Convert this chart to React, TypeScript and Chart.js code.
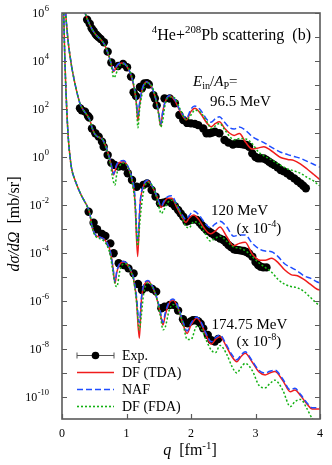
import React, { useEffect, useRef } from "react";
import { Chart, registerables } from "chart.js";
Chart.register(...registerables);

// ---------- data (values are log10 of dσ/dΩ as plotted, scaled sets already multiplied) ----------
// 96.5 MeV
const q1: number[] = [0.34,0.36,0.40,0.45,0.50,0.55,0.60,0.65,0.70,0.75,0.78,0.80,0.83,0.87,0.93,1.00,1.07,1.12,1.15,1.178,1.20,1.24,1.31,1.38,1.44,1.50,1.53,1.56,1.60,1.67,1.75,1.83,1.93,2.00,2.06,2.15,2.25,2.31,2.38,2.44,2.52,2.60,2.67,2.75,2.85,2.95,3.05,3.13,3.25,3.39,3.50,3.60,3.70,3.80,3.90,3.98,4.0];
const tda1: number[] = [6.1,5.98,5.7,5.4,5.18,5.02,4.9,4.72,4.42,4.0,3.7,3.56,3.68,3.85,3.92,3.8,3.4,2.85,2.3,1.5,2.1,2.75,3.12,2.95,2.55,1.8,1.3,1.85,2.3,2.54,2.35,1.9,1.55,1.9,2.03,1.8,1.4,1.26,1.4,1.47,1.2,0.99,0.9,0.98,0.6,0.33,0.38,0.43,0.25,-0.02,-0.1,-0.15,-0.3,-0.5,-0.72,-0.9,-0.95];
const naf1: number[] = [6.1,5.98,5.7,5.4,5.18,5.02,4.9,4.72,4.42,4.0,3.72,3.6,3.72,3.87,3.93,3.8,3.42,2.9,2.45,1.75,2.2,2.8,3.14,2.96,2.55,1.85,1.38,1.85,2.3,2.56,2.4,1.95,1.62,2.0,2.12,1.95,1.55,1.45,1.6,1.68,1.45,1.22,1.17,1.25,1.1,0.85,0.7,0.6,0.4,0.2,0.1,0.02,-0.06,-0.18,-0.3,-0.4,-0.42];
const fda1: number[] = [6.1,5.98,5.7,5.4,5.18,5.02,4.9,4.72,4.42,4.0,3.55,3.3,3.4,3.7,3.88,3.82,3.45,2.9,2.3,1.22,1.9,2.6,3.1,3.0,2.6,1.75,1.25,1.5,2.2,2.5,2.45,2.0,1.55,1.75,1.95,1.85,1.45,1.2,1.3,1.4,1.15,0.85,0.72,0.77,0.75,0.55,0.2,0.05,-0.12,-0.35,-0.5,-0.58,-0.68,-0.85,-1.0,-1.17,-1.2];
const exp1: [number, number][] = [[0.39,5.72],[0.43,5.55],[0.46,5.36],[0.49,5.25],[0.52,5.12],[0.54,5.06],[0.565,5.0],[0.60,4.92],[0.65,4.78],[0.708,4.39],[0.765,3.94],[0.87,3.79],[0.946,3.875],[1.008,3.74],[1.07,3.35],[1.11,2.7],[1.147,2.54],[1.209,2.92],[1.24,2.86],[1.276,3.06],[1.318,3.07],[1.345,3.02],[1.416,2.58],[1.44,2.44],[1.468,2.15],[1.59,2.44],[1.67,2.44],[1.75,2.24],[1.82,1.75],[1.88,1.54],[1.94,1.42],[2.0,1.4],[2.06,1.38],[2.11,1.33],[2.19,1.19],[2.24,0.99],[2.29,0.99],[2.33,1.02],[2.37,1.05],[2.44,0.99],[2.52,0.71],[2.58,0.6],[2.65,0.52],[2.7,0.56],[2.74,0.55],[2.78,0.54],[2.82,0.52],[2.86,0.5],[2.9,0.43],[2.95,0.15],[3.0,0.0],[3.04,-0.05],[3.08,-0.05],[3.13,-0.06],[3.17,-0.12],[3.21,-0.2],[3.25,-0.27],[3.29,-0.33],[3.34,-0.43],[3.39,-0.54],[3.44,-0.6],[3.49,-0.68],[3.54,-0.78],[3.6,-0.89],[3.65,-1.0],[3.7,-1.1],[3.74,-1.2],[3.78,-1.3]];

// 120 MeV (x 1e-4)
const q2: number[] = [0.057,0.065,0.08,0.10,0.125,0.15,0.175,0.20,0.24,0.28,0.32,0.36,0.40,0.43,0.47,0.51,0.55,0.59,0.63,0.67,0.71,0.75,0.78,0.80,0.82,0.85,0.90,0.956,1.02,1.08,1.13,1.173,1.21,1.26,1.33,1.40,1.47,1.54,1.58,1.64,1.70,1.78,1.86,1.92,1.97,2.04,2.12,2.20,2.30,2.37,2.45,2.55,2.66,2.75,2.84,2.95,3.07,3.15,3.25,3.35,3.45,3.55,3.65,3.75,3.85,3.95,4.0];
const tda2: number[] = [6.05,5.7,5.25,4.7,4.2,3.76,3.4,3.07,2.6,2.22,2.0,1.85,1.7,1.55,1.19,0.95,0.85,0.8,0.72,0.5,0.2,-0.2,-0.55,-0.75,-0.6,-0.35,-0.22,-0.2,-0.4,-0.9,-1.8,-4.15,-2.0,-1.25,-1.0,-1.25,-1.65,-2.1,-1.9,-1.72,-1.72,-2.1,-2.5,-2.72,-2.55,-2.42,-2.6,-2.95,-3.2,-3.1,-2.92,-3.3,-3.7,-3.6,-3.55,-4.05,-4.3,-4.3,-4.22,-4.4,-4.7,-4.9,-4.95,-5.1,-5.3,-5.5,-5.55];
const naf2: number[] = [6.05,5.7,5.25,4.7,4.2,3.76,3.4,3.07,2.6,2.22,2.0,1.85,1.7,1.55,1.19,0.95,0.85,0.8,0.72,0.5,0.2,-0.18,-0.5,-0.72,-0.55,-0.3,-0.18,-0.15,-0.38,-0.85,-1.6,-3.5,-1.9,-1.2,-0.97,-1.22,-1.62,-2.05,-1.85,-1.65,-1.62,-2.0,-2.4,-2.6,-2.45,-2.25,-2.4,-2.7,-2.95,-2.8,-2.68,-2.9,-3.3,-3.25,-3.25,-3.6,-3.85,-3.92,-3.95,-4.15,-4.45,-4.6,-4.75,-4.95,-5.05,-5.2,-5.25];
const fda2: number[] = [6.05,5.7,5.25,4.7,4.2,3.76,3.4,3.07,2.6,2.22,2.0,1.85,1.7,1.55,1.19,0.95,0.85,0.8,0.72,0.48,0.15,-0.3,-0.8,-1.05,-1.17,-0.7,-0.35,-0.25,-0.42,-0.95,-1.9,-3.7,-2.6,-1.5,-1.05,-1.2,-1.7,-2.35,-2.2,-1.9,-1.8,-2.0,-2.5,-2.9,-2.95,-2.7,-2.75,-3.1,-3.5,-3.4,-3.3,-3.5,-3.75,-3.8,-3.9,-4.15,-4.45,-4.6,-4.8,-5.1,-5.3,-5.4,-5.45,-5.6,-5.85,-6.1,-6.2];
const exp2: [number, number][] = [[0.279,2.03],[0.305,1.95],[0.357,1.89],[0.403,1.71],[0.423,1.64],[0.465,1.19],[0.517,0.99],[0.568,0.85],[0.62,0.64],[0.646,0.43],[0.708,0.08],[0.765,-0.24],[0.817,-0.33],[0.879,-0.4],[0.956,-0.4],[1.02,-0.68],[1.085,-0.96],[1.158,-1.24],[1.26,-1.17],[1.318,-1.1],[1.39,-1.375],[1.45,-1.65],[1.519,-1.93],[1.57,-1.9],[1.62,-1.86],[1.70,-1.93],[1.75,-2.05],[1.80,-2.21],[1.84,-2.35],[1.88,-2.49],[1.93,-2.69],[1.97,-2.65],[2.01,-2.62],[2.05,-2.6],[2.09,-2.62],[2.13,-2.72],[2.165,-2.83],[2.2,-2.93],[2.24,-3.04],[2.28,-3.1],[2.32,-3.18],[2.36,-3.25],[2.4,-3.32],[2.45,-3.4],[2.5,-3.46],[2.54,-3.55],[2.58,-3.67],[2.62,-3.75],[2.667,-3.85],[2.70,-3.87],[2.74,-3.88],[2.78,-3.9],[2.82,-3.92],[2.86,-3.96],[2.9,-4.02],[2.95,-4.15],[3.0,-4.38],[3.04,-4.5],[3.08,-4.57],[3.12,-4.6],[3.17,-4.6]];

// 174.75 MeV (x 1e-8)
const q3: number[] = [0.025,0.03,0.04,0.055,0.075,0.10,0.125,0.15,0.20,0.25,0.30,0.35,0.39,0.43,0.465,0.49,0.52,0.56,0.60,0.65,0.70,0.75,0.79,0.822,0.85,0.90,0.956,1.0,1.06,1.11,1.15,1.199,1.23,1.266,1.333,1.40,1.48,1.53,1.566,1.60,1.66,1.72,1.80,1.88,1.94,2.0,2.09,2.15,2.23,2.315,2.38,2.45,2.55,2.63,2.71,2.78,2.84,2.95,3.05,3.15,3.22,3.30,3.42,3.54,3.61,3.70,3.80,3.88,3.95,4.0];
const tda3: number[] = [6.5,5.6,4.5,3.2,1.9,0.7,0.0,-0.5,-0.95,-1.3,-1.6,-1.85,-2.05,-2.35,-2.9,-3.1,-3.25,-3.32,-3.35,-3.42,-3.6,-3.95,-4.6,-5.26,-4.8,-4.45,-4.38,-4.45,-4.71,-5.1,-5.8,-7.55,-6.0,-5.4,-5.19,-5.4,-6.0,-6.6,-7.0,-6.6,-6.1,-5.96,-6.3,-7.0,-7.35,-7.0,-6.72,-6.9,-7.4,-7.8,-7.6,-7.49,-7.9,-8.3,-8.53,-8.3,-8.18,-8.55,-8.95,-9.08,-9.0,-8.94,-9.3,-9.78,-9.71,-9.95,-10.3,-10.5,-10.5,-10.5];
const naf3: number[] = [6.5,5.6,4.5,3.2,1.9,0.7,0.0,-0.5,-0.95,-1.3,-1.6,-1.85,-2.05,-2.35,-2.9,-3.1,-3.25,-3.32,-3.35,-3.42,-3.6,-3.95,-4.6,-5.2,-4.75,-4.42,-4.35,-4.42,-4.68,-5.05,-5.7,-6.9,-5.9,-5.35,-5.15,-5.37,-5.95,-6.5,-6.9,-6.5,-6.05,-5.92,-6.25,-6.9,-7.25,-6.93,-6.67,-6.85,-7.33,-7.7,-7.52,-7.42,-7.83,-8.22,-8.45,-8.24,-8.12,-8.5,-8.88,-9.0,-8.93,-8.88,-9.24,-9.7,-9.64,-9.9,-10.25,-10.45,-10.45,-10.45];
const fda3: number[] = [6.5,5.6,4.5,3.2,1.9,0.7,0.0,-0.5,-0.95,-1.3,-1.6,-1.85,-2.05,-2.35,-2.9,-3.15,-3.3,-3.38,-3.42,-3.5,-3.7,-4.1,-4.8,-5.3,-5.4,-4.7,-4.45,-4.45,-4.72,-5.15,-5.9,-7.2,-6.6,-5.7,-5.25,-5.4,-6.0,-6.7,-7.2,-7.1,-6.4,-6.15,-6.35,-7.0,-7.6,-7.6,-7.05,-7.1,-7.6,-8.05,-8.15,-7.85,-8.2,-8.7,-9.0,-8.75,-8.6,-8.9,-9.5,-9.62,-9.45,-9.3,-9.7,-10.4,-10.2,-10.1,-10.5,-10.9,-11.1,-11.2];
const exp3: [number, number][] = [[0.413,-2.28],[0.49,-2.74],[0.543,-3.01],[0.62,-3.21],[0.672,-3.29],[0.749,-3.6],[0.80,-4.01],[0.879,-4.43],[0.956,-4.5],[1.03,-4.64],[1.11,-4.85],[1.178,-5.29],[1.24,-5.54],[1.318,-5.43],[1.40,-5.5],[1.46,-5.61],[1.54,-6.3],[1.59,-6.24],[1.67,-6.17],[1.74,-6.17],[1.80,-6.4],[1.876,-6.76],[1.91,-6.9],[1.95,-6.93],[1.99,-6.86],[2.03,-6.8],[2.07,-6.8],[2.11,-6.84],[2.15,-6.95],[2.19,-7.14],[2.26,-7.42],[2.315,-7.63],[2.37,-7.69],[2.42,-7.58]];

const yTickExps: number[] = [6,5,4,3,2,1,0,-1,-2,-3,-4,-5,-6,-7,-8,-9,-10];
const yLabelExps: number[] = [6,4,2,0,-2,-4,-6,-8,-10];
const xTicks: number[] = [0,1,2,3,4];
const legendLabels: string[] = ["Exp.", "DF (TDA)", "NAF", "DF (FDA)"];

// ---------- styling ----------
const FAMILY = "'Liberation Serif', 'Times New Roman', serif";
const RED = "#f01c1c";
const BLUE = "#1e4dff";
const GREEN = "#12b012";
const AXIS = "#5a5a5a";
const Y_MIN = 1.21e-11;
const Y_MAX = 1e6;

const curve = (q: number[], lg: number[]) => q.map((x, i) => ({ x, y: Math.pow(10, lg[i]) }));
const pts = (p: [number, number][]) => p.map(([x, v]) => ({ x, y: Math.pow(10, v) }));

type Seg = { t: string; it?: boolean; sup?: boolean; sub?: boolean };
function drawRich(ctx: CanvasRenderingContext2D, segs: Seg[], x: number, y: number, size: number, align: string = "left") {
  const small = size * 0.68;
  const fontOf = (s: Seg) => `${s.it ? "italic " : ""}${s.sup || s.sub ? small : size}px ${FAMILY}`;
  let w = 0;
  for (const s of segs) { ctx.font = fontOf(s); w += ctx.measureText(s.t).width; }
  let cx = align === "left" ? x : align === "right" ? x - w : x - w / 2;
  ctx.textAlign = "left";
  ctx.textBaseline = "alphabetic";
  for (const s of segs) {
    ctx.font = fontOf(s);
    const dy = s.sup ? -size * 0.4 : s.sub ? size * 0.22 : 0;
    ctx.fillText(s.t, cx, y + dy);
    cx += ctx.measureText(s.t).width;
  }
}

const overlay = {
  id: "overlay",
  afterDraw(chart: any) {
    const ctx: CanvasRenderingContext2D = chart.ctx;
    const { left, right, top, bottom } = chart.chartArea;
    const xs = chart.scales.x;
    const ys = chart.scales.y;
    ctx.save();
    ctx.fillStyle = "#000";
    // frame
    ctx.strokeStyle = AXIS;
    ctx.lineWidth = 1.6;
    ctx.strokeRect(left, top, right - left, bottom - top);
    // y ticks (left and right, inward)
    ctx.lineWidth = 1.2;
    for (const e of yTickExps) {
      const py = Math.round(ys.getPixelForValue(Math.pow(10, e))) + 0.5;
      ctx.beginPath();
      ctx.moveTo(left, py); ctx.lineTo(left + 5, py);
      ctx.moveTo(right, py); ctx.lineTo(right - 5, py);
      ctx.stroke();
    }
    // x ticks (bottom, inward)
    for (const t of xTicks) {
      const px = Math.round(xs.getPixelForValue(t)) + 0.5;
      ctx.beginPath();
      ctx.moveTo(px, bottom); ctx.lineTo(px, bottom - 5);
      ctx.stroke();
    }
    // y tick labels
    for (const e of yLabelExps) {
      const py = ys.getPixelForValue(Math.pow(10, e));
      ctx.font = `8.5px ${FAMILY}`;
      const sup = String(e);
      const ws = ctx.measureText(sup).width;
      ctx.font = `12px ${FAMILY}`;
      const wb = ctx.measureText("10").width;
      const xr = 49;
      ctx.textAlign = "left";
      ctx.textBaseline = "alphabetic";
      ctx.fillText("10", xr - ws - wb - 0.5, py + 4.2);
      ctx.font = `8.5px ${FAMILY}`;
      ctx.fillText(sup, xr - ws, py - 1.6);
    }
    // x tick labels
    ctx.font = `12px ${FAMILY}`;
    ctx.textAlign = "center";
    for (const t of xTicks) {
      ctx.fillText(String(t), xs.getPixelForValue(t), 437);
    }
    // axis titles
    drawRich(ctx, [{ t: "q", it: true }, { t: "  [fm" }, { t: "-1", sup: true }, { t: "]" }], 190, 455, 16, "center");
    ctx.save();
    ctx.translate(18.5, 224);
    ctx.rotate(-Math.PI / 2);
    drawRich(ctx, [{ t: "dσ/dΩ", it: true }, { t: "  [mb/sr]" }], 0, 0, 16, "center");
    ctx.restore();
    // annotations
    drawRich(ctx, [{ t: "4", sup: true }, { t: "He+" }, { t: "208", sup: true }, { t: "Pb scattering  (b)" }], 311, 39.5, 16, "right");
    drawRich(ctx, [{ t: "E", it: true }, { t: "in", sub: true }, { t: "/" }, { t: "A", it: true }, { t: "P", sub: true }, { t: "=" }], 193, 86, 15);
    drawRich(ctx, [{ t: "96.5 MeV" }], 210, 106, 15);
    drawRich(ctx, [{ t: "120 MeV" }], 211, 215, 15);
    drawRich(ctx, [{ t: "(x 10" }, { t: "-4", sup: true }, { t: ")" }], 236.5, 232.5, 15);
    drawRich(ctx, [{ t: "174.75 MeV" }], 211.5, 329, 15);
    drawRich(ctx, [{ t: "(x 10" }, { t: "-8", sup: true }, { t: ")" }], 236.5, 346, 15);
    // legend
    const lx0 = 77, lx1 = 114, tx = 122;
    const rows = [355.5, 372.5, 389.5, 406.5];
    // Exp.
    ctx.strokeStyle = "#555";
    ctx.lineWidth = 1;
    ctx.setLineDash([]);
    ctx.beginPath();
    ctx.moveTo(lx0, rows[0]); ctx.lineTo(lx1, rows[0]);
    ctx.moveTo(lx0, rows[0] - 3); ctx.lineTo(lx0, rows[0] + 3);
    ctx.moveTo(lx1, rows[0] - 3); ctx.lineTo(lx1, rows[0] + 3);
    ctx.stroke();
    ctx.fillStyle = "#000";
    ctx.beginPath();
    ctx.arc((lx0 + lx1) / 2, rows[0], 3.8, 0, Math.PI * 2);
    ctx.fill();
    const styles: [string, number[]][] = [[RED, []], [BLUE, [6, 3]], [GREEN, [2, 2]]];
    styles.forEach(([c, d], i) => {
      ctx.strokeStyle = c;
      ctx.lineWidth = 1.6;
      ctx.setLineDash(d);
      ctx.beginPath();
      ctx.moveTo(lx0, rows[i + 1]); ctx.lineTo(lx1, rows[i + 1]);
      ctx.stroke();
    });
    ctx.setLineDash([]);
    ctx.fillStyle = "#000";
    legendLabels.forEach((lab, i) => drawRich(ctx, [{ t: lab }], tx, rows[i] + 4.8, 14));
    ctx.restore();
  },
};

function lineDs(data: any[], color: string, dash: number[]) {
  return {
    data,
    showLine: true,
    borderColor: color,
    backgroundColor: color,
    borderWidth: 1.5,
    borderDash: dash,
    pointRadius: 0,
    cubicInterpolationMode: "monotone" as const,
    clip: 0,
    order: 1,
  };
}
function expDs(data: any[]) {
  return {
    data,
    showLine: false,
    pointRadius: 4.2,
    pointBackgroundColor: "#000",
    pointBorderWidth: 0,
    borderColor: "#000",
    order: 5,
  };
}

export default function App() {
  const ref = useRef<HTMLCanvasElement>(null);
  useEffect(() => {
    document.body.style.margin = "0";
    const canvas = ref.current!;
    const chart = new Chart(canvas, {
      type: "scatter",
      data: {
        datasets: [
          expDs(pts(exp1)), expDs(pts(exp2)), expDs(pts(exp3)),
          lineDs(curve(q1, fda1), GREEN, [2, 2]),
          lineDs(curve(q2, fda2), GREEN, [2, 2]),
          lineDs(curve(q3, fda3), GREEN, [2, 2]),
          lineDs(curve(q1, naf1), BLUE, [6, 3]),
          lineDs(curve(q2, naf2), BLUE, [6, 3]),
          lineDs(curve(q3, naf3), BLUE, [6, 3]),
          lineDs(curve(q1, tda1), RED, []),
          lineDs(curve(q2, tda2), RED, []),
          lineDs(curve(q3, tda3), RED, []),
        ] as any,
      },
      options: {
        animation: false,
        responsive: false,
        devicePixelRatio: 1,
        layout: { padding: { left: 62, right: 12, top: 13, bottom: 46 } },
        scales: {
          x: { type: "linear", min: 0, max: 4, display: false },
          y: { type: "logarithmic", min: Y_MIN, max: Y_MAX, display: false },
        },
        plugins: { legend: { display: false }, tooltip: { enabled: false } },
      } as any,
      plugins: [overlay],
    });
    return () => chart.destroy();
  }, []);
  return (
    <canvas ref={ref} width={332} height={465} style={{ display: "block", width: 332, height: 465 }} />
  );
}
